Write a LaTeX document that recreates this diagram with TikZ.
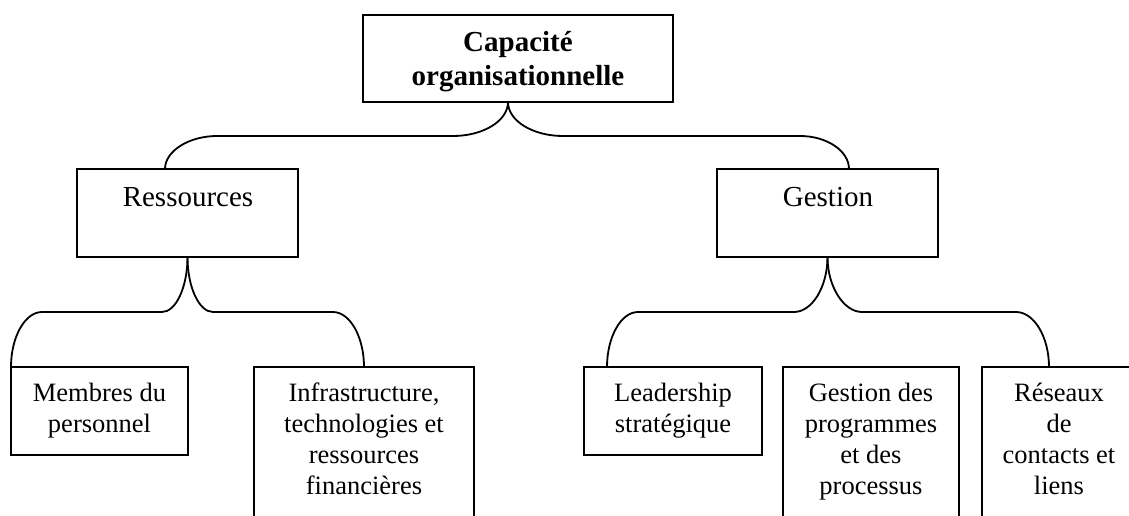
\documentclass[tikz,border=0pt]{standalone}
\usepackage{fontspec}
\setmainfont{Liberation Serif}
\usetikzlibrary{calc}
\tikzset{
  box/.style={draw, line width=2pt, inner sep=0pt, outer sep=0pt},
  conn/.style={draw, line width=1.8pt},
  biglbl/.style={inner sep=0pt, align=center, anchor=base, font=\fontsize{29}{34}\selectfont},
  smalllbl/.style={inner sep=0pt, align=center, anchor=base, font=\fontsize{26.5}{31}\selectfont},
}
\begin{document}
\begin{tikzpicture}[x=1pt, y=-1pt]
\useasboundingbox (0,0) rectangle (1129,516);
\clip (0,0) rectangle (1129,516);
% boxes
\node[box, minimum width=310pt, minimum height=87pt] (top) at (518,58.5) {};
\node[box, minimum width=221pt, minimum height=88pt] (res) at (187.5,213) {};
\node[box, minimum width=221pt, minimum height=88pt] (ges) at (827.5,213) {};
\node[box, minimum width=177pt, minimum height=88pt] (mem) at (99.5,411) {};
\node[box, minimum width=220pt, minimum height=178pt] (inf) at (364,456) {};
\node[box, minimum width=178pt, minimum height=88pt] (lead) at (673,411) {};
\node[box, minimum width=176pt, minimum height=178pt] (prog) at (871,456) {};
\node[box, minimum width=154pt, minimum height=178pt] (rsx) at (1059,456) {};
% labels (base anchor = baseline of the last line)
\node[biglbl] (ttop) at (518,86) {\textbf{Capacité}\\\textbf{organisationnelle}};
\node[biglbl] (tres) at (188,206) {Ressources};
\node[biglbl] (tges) at (828,206) {Gestion};
\node[smalllbl] (tmem) at (99.5,432) {Membres du\\personnel};
\node[smalllbl] (tinf) at (364,494) {Infrastructure,\\technologies et\\ressources\\financières};
\node[smalllbl] (tlead) at (673,432) {Leadership\\stratégique};
\node[smalllbl] (tprog) at (871,494) {Gestion des\\programmes\\et des\\processus};
\node[smalllbl] (trsx) at (1059,494) {Réseaux\\de\\contacts et\\liens};
% connectors (braces)
\draw[conn] ($(top.south)+(-10,0)$) .. controls +(0,19) and +(30,0) .. (453,136) -- (217,136)
  .. controls +(-28,0) and +(0,-18) .. ($(res.north)+(-22.5,0)$);
\draw[conn] ($(top.south)+(-10,0)$) .. controls +(0,19) and +(-30,0) .. (563,136) -- (800,136)
  .. controls +(27,0) and +(0,-18) .. ($(ges.north)+(21.5,0)$);
\draw[conn] (res.south) .. controls +(0,30) and +(14,0) .. (162,312) -- (42,312)
  .. controls +(-17,0) and +(0,-30) .. (mem.north west);
\draw[conn] (res.south) .. controls +(0,30) and +(-14,0) .. (213,312) -- (333,312)
  .. controls +(17,0) and +(0,-30) .. (inf.north);
\draw[conn] (ges.south) .. controls +(0,30) and +(18,0) .. (794,312) -- (638,312)
  .. controls +(-17,0) and +(0,-30) .. ($(lead.north)+(-66,0)$);
\draw[conn] (ges.south) .. controls +(0,30) and +(-18,0) .. (862,312) -- (1016,312)
  .. controls +(18,0) and +(0,-30) .. ($(rsx.north)+(-10,0)$);
\end{tikzpicture}
\end{document}
